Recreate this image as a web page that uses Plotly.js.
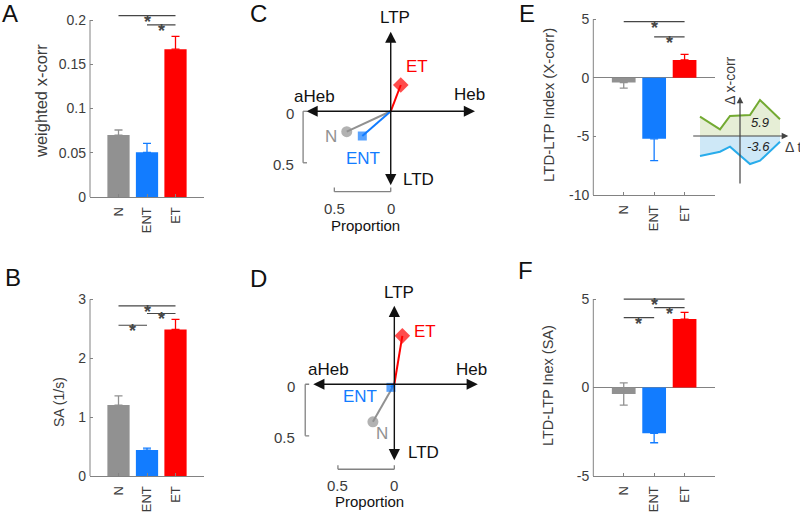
<!DOCTYPE html>
<html><head><meta charset="utf-8">
<script src="https://cdn.plot.ly/plotly-3.0.1.min.js"></script>
<style>html,body{margin:0;padding:0;background:#fff}#chart{width:800px;height:513px}</style>
</head><body><div id="chart"></div>
<script>
// ---------- DATA ----------
const categories = ['N', 'ENT', 'ET'];

// A: weighted x-corr
const xcorrMean = [0.070, 0.0505, 0.167];
const xcorrErrUp = [0.0057, 0.0102, 0.0146];
const xcorrErrDown = [0, 0, 0];
const xcorrTicks = [0, 0.05, 0.1, 0.15, 0.2];
const xcorrTickText = ['0', '0.05', '0.1', '0.15', '0.2'];
const xcorrSig = [[0, 2, 0.2049], [1, 2, 0.1944]];

// B: SA (1/s)
const saMean = [1.205, 0.44, 2.49];
const saErrUp = [0.155, 0.035, 0.17];
const saErrDown = [0, 0, 0];
const saTicks = [0, 1, 2, 3];
const saTickText = ['0', '1', '2', '3'];
const saSig = [[0, 2, 2.89], [1, 2, 2.76], [0, 1, 2.56]];

// E: LTD-LTP Index (X-corr)
const idxXcMean = [-0.40, -5.2, 1.53];
const idxXcErrUp = [0, 0, 0.47];
const idxXcErrDown = [0.48, 1.86, 0];
const idxXcTicks = [-10, -5, 0, 5];
const idxXcTickText = ['-10', '-5', '0', '5'];
const idxXcSig = [[0, 2, 4.8], [1, 2, 3.5]];

// F: LTD-LTP Inex (SA)
const idxSaMean = [-0.37, -2.59, 3.87];
const idxSaErrUp = [0.63, 0, 0.38];
const idxSaErrDown = [0.63, 0.53, 0];
const idxSaTicks = [-5, 0, 5];
const idxSaTickText = ['-5', '0', '5'];
const idxSaSig = [[0, 2, 5.0], [1, 2, 4.51], [0, 1, 3.95]];

// C / D: proportion vectors (x: aHeb(-)/Heb(+), y: LTD(-)/LTP(+))
const cPropX = [-0.39, -0.252, 0.089];
const cPropY = [-0.198, -0.24, 0.255];
const dPropX = [-0.19, -0.03, 0.071];
const dPropY = [-0.365, -0.03, 0.47];
const scaleTicks = [0, 0.5];
const scaleTickText = ['0', '0.5'];

// E inset
const insetDt = [-4, -2, -1, 1, 2, 4];
const insetLtp = [1.93, 0.67, 2.0, 2.1, 3.6, 1.67];
const insetLtd = [-2.0, -1.57, -1.07, -2.8, -2.47, -0.57];
const insetLtpText = '5.9';
const insetLtdText = '-3.6';

// ---------- STYLE ----------
const W = 800, H = 513;
const FONT = 'Liberation Sans, Arial, sans-serif';
const GRAY = 'rgb(145,145,145)', BLUE = 'rgb(18,124,255)', RED = 'rgb(255,0,0)';
const barColors = [GRAY, BLUE, RED];
const AX = 'rgb(130,130,130)', TXT = 'rgb(60,60,60)', SIG = 'rgb(70,70,70)';
function xd(a, b) { return [a / W, b / W]; }
function yd(top, bot) { return [1 - bot / H, 1 - top / H]; }

const traces = [];
const shapes = [];
const annotations = [];
const layout = {
  width: W, height: H, margin: {l: 0, r: 0, t: 0, b: 0},
  paper_bgcolor: '#fff', plot_bgcolor: 'rgba(0,0,0,0)',
  showlegend: false, barmode: 'overlay',
  font: {family: FONT, color: TXT},
  shapes: shapes, annotations: annotations
};

function barPanel(n, xdom, ydom, yrange, mean, up, down, tv, tt, sig, ytop, title, titlePos, titleSize) {
  const xa = 'x' + (n === 1 ? '' : n), ya = 'y' + (n === 1 ? '' : n);
  layout['xaxis' + (n === 1 ? '' : n)] = {
    domain: xdom, range: [-1, 3], anchor: ya, showline: true, linecolor: AX, linewidth: 1,
    tickvals: [0, 1, 2], ticktext: categories, tickangle: -90, ticks: 'inside', ticklen: 3,
    tickcolor: AX, tickfont: {size: 13, color: TXT, family: FONT}, showgrid: false, zeroline: false,
    ticklabelstandoff: 4
  };
  layout['yaxis' + (n === 1 ? '' : n)] = {
    domain: ydom, range: yrange, anchor: xa, showline: false,
    tickvals: tv, ticktext: tt, ticks: 'inside', ticklen: 3, tickcolor: AX,
    tickfont: {size: 14, color: TXT, family: FONT}, showgrid: false,
    zeroline: yrange[0] < 0, zerolinecolor: AX, zerolinewidth: 1, ticklabelstandoff: 3
  };
  for (let i = 0; i < categories.length; i++) {
    traces.push({
      type: 'bar', x: [i], y: [mean[i]], width: 0.78, xaxis: xa, yaxis: ya,
      marker: {color: barColors[i], line: {width: 0}},
      error_y: {type: 'data', symmetric: false, array: [up[i]], arrayminus: [down[i]],
        color: barColors[i], thickness: 1.3, width: 4},
      hoverinfo: 'skip'
    });
  }
  shapes.push({type: 'line', xref: 'paper', yref: ya, x0: xdom[0], x1: xdom[0],
    y0: yrange[0], y1: ytop, line: {color: AX, width: 1}});
  sig.forEach(s => {
    shapes.push({type: 'line', xref: xa, yref: ya, x0: s[0], x1: s[1], y0: s[2], y1: s[2],
      line: {color: SIG, width: 1.2}});
    annotations.push({xref: xa, yref: ya, x: (s[0] + s[1]) / 2, y: s[2], text: '<b>*</b>',
      showarrow: false, font: {size: 18, color: SIG, family: FONT}, yshift: -6});
  });
  annotations.push({xref: 'paper', yref: 'paper', x: titlePos[0] / W, y: 1 - titlePos[1] / H,
    text: title, textangle: -90, showarrow: false, xanchor: 'center', yanchor: 'middle',
    font: {size: titleSize, color: TXT, family: FONT}});
}

barPanel(1, xd(90, 204), yd(11.15, 197), [0, 0.21], xcorrMean, xcorrErrUp, xcorrErrDown,
  xcorrTicks, xcorrTickText, xcorrSig, 0.2, 'weighted x-corr', [41, 101], 16.5);
barPanel(2, xd(90, 204), yd(296.4, 476), [0, 3.05], saMean, saErrUp, saErrDown,
  saTicks, saTickText, saSig, 3, 'SA (1/s)', [59, 402], 14);
barPanel(5, xd(593.3, 715), yd(16.96, 195), [-10, 5.2], idxXcMean, idxXcErrUp, idxXcErrDown,
  idxXcTicks, idxXcTickText, idxXcSig, 5, 'LTD-LTP Index (X-corr)', [548, 105], 15);
barPanel(6, xd(593.3, 715), yd(295.5, 476), [-5, 5.2], idxSaMean, idxSaErrUp, idxSaErrDown,
  idxSaTicks, idxSaTickText, idxSaSig, 5, 'LTD-LTP Inex (SA)', [548, 386], 14.5);

// ---------- C / D vector panels ----------
const markerSymbols = ['circle', 'square', 'diamond'];
const markerSizes = [11, 9, 12];
function vecPanel(n, xdom, ydom, px, py, cfg) {
  const xa = 'x' + n, ya = 'y' + n;
  layout['xaxis' + n] = {domain: xdom, range: [-0.893, 0.880], anchor: ya, visible: false, fixedrange: true};
  layout['yaxis' + n] = {domain: ydom, range: [-1.201, 0.983], anchor: xa, visible: false, fixedrange: true};
  // axes arrows
  annotations.push({xref: xa, yref: ya, axref: xa, ayref: ya, x: cfg.hR, y: 0, ax: cfg.hL, ay: 0,
    text: '', showarrow: true, arrowhead: 2, startarrowhead: 2, arrowside: 'end+start',
    arrowsize: 1.6, startarrowsize: 1.6, arrowwidth: 1.4, arrowcolor: '#111', standoff: 0, startstandoff: 0});
  annotations.push({xref: xa, yref: ya, axref: xa, ayref: ya, x: 0, y: cfg.vT, ax: 0, ay: cfg.vB,
    text: '', showarrow: true, arrowhead: 2, startarrowhead: 2, arrowside: 'end+start',
    arrowsize: 1.6, startarrowsize: 1.6, arrowwidth: 1.4, arrowcolor: '#111', standoff: 0, startstandoff: 0});
  // vectors
  for (let i = 0; i < categories.length; i++) {
    traces.push({type: 'scatter', mode: 'lines+markers', x: [0, px[i]], y: [0, py[i]],
      xaxis: xa, yaxis: ya, cliponaxis: false,
      line: {color: barColors[i], width: 2},
      marker: {symbol: markerSymbols[i], size: [0, markerSizes[i]], color: barColors[i], line: {width: 0}},
      hoverinfo: 'skip'});
  }
  // scale brackets
  const bx = cfg.bx, by = cfg.by, tk = 0.035, tky = 0.04;
  shapes.push({type: 'line', xref: xa, yref: ya, x0: bx, x1: bx, y0: -scaleTicks[0], y1: -scaleTicks[1], line: {color: AX, width: 1.3}});
  scaleTicks.forEach(v => shapes.push({type: 'line', xref: xa, yref: ya, x0: bx, x1: bx + tk, y0: -v, y1: -v, line: {color: AX, width: 1.3}}));
  shapes.push({type: 'line', xref: xa, yref: ya, x0: -scaleTicks[1], x1: -scaleTicks[0], y0: by, y1: by, line: {color: AX, width: 1.3}});
  scaleTicks.forEach(v => shapes.push({type: 'line', xref: xa, yref: ya, x0: -v, x1: -v, y0: by, y1: by + tky, line: {color: AX, width: 1.3}}));
  scaleTicks.forEach((v, k) => {
    annotations.push({xref: xa, yref: ya, x: cfg.lblX, y: -v, text: scaleTickText[k], showarrow: false,
      xanchor: 'right', yanchor: 'middle', font: {size: 15, color: TXT, family: FONT}, yshift: -2});
    annotations.push({xref: xa, yref: ya, x: -v, y: cfg.lblY, text: scaleTickText[k], showarrow: false,
      xanchor: 'center', yanchor: 'middle', font: {size: 15, color: TXT, family: FONT}});
  });
  annotations.push({xref: xa, yref: ya, x: -0.222, y: cfg.propY, text: 'Proportion', showarrow: false,
    font: {size: 15, color: '#111', family: FONT}});
  const axisLabels = [['LTP', cfg.ltp], ['LTD', cfg.ltd], ['aHeb', cfg.aheb], ['Heb', cfg.heb]];
  axisLabels.forEach(l => annotations.push({xref: xa, yref: ya, x: l[1][0], y: l[1][1], text: l[0],
    showarrow: false, font: {size: 17, color: '#111', family: FONT}}));
  categories.forEach((c, i) => annotations.push({xref: xa, yref: ya, x: cfg.cat[i][0], y: cfg.cat[i][1],
    text: c, showarrow: false, font: {size: 17, color: barColors[i], family: FONT}}));
}

vecPanel(3, xd(290, 490), yd(10, 235), cPropX, cPropY, {
  hL: -0.76, hR: 0.747, vT: 0.773, vB: -0.732, bx: -0.777, by: -0.78,
  lblX: -0.839, lblY: -0.939, propY: -1.104,
  ltp: [0.038, 0.906], ltd: [0.242, -0.667], aheb: [-0.672, 0.142], heb: [0.694, 0.158],
  cat: [[-0.532, -0.24], [-0.246, -0.456], [0.23, 0.433]]
});
vecPanel(4, xd(293.6, 493.6), yd(283, 508), dPropX, dPropY, {
  hL: -0.732, hR: 0.74, vT: 0.761, vB: -0.751, bx: -0.79, by: -0.825,
  lblX: -0.86, lblY: -0.978, propY: -1.14,
  ltp: [0.044, 0.889], ltd: [0.257, -0.664], aheb: [-0.58, 0.139], heb: [0.688, 0.14],
  cat: [[-0.112, -0.476], [-0.304, -0.12], [0.272, 0.517]]
});

// ---------- E inset ----------
layout.xaxis7 = {domain: xd(690, 800), range: [-5, 6], anchor: 'y7', visible: false, fixedrange: true};
layout.yaxis7 = {domain: yd(60, 190), range: [-5.4, 7.6], anchor: 'x7', visible: false, fixedrange: true};
traces.push({type: 'scatter', mode: 'lines', x: insetDt, y: insetLtp, xaxis: 'x7', yaxis: 'y7',
  fill: 'tozeroy', fillcolor: 'rgb(230,238,214)', line: {color: 'rgb(115,170,50)', width: 2}, hoverinfo: 'skip'});
traces.push({type: 'scatter', mode: 'lines', x: insetDt, y: insetLtd, xaxis: 'x7', yaxis: 'y7',
  fill: 'tozeroy', fillcolor: 'rgb(206,232,247)', line: {color: 'rgb(40,172,235)', width: 2}, hoverinfo: 'skip'});
annotations.push({xref: 'x7', yref: 'y7', axref: 'x7', ayref: 'y7', x: 4.83, y: 0, ax: -4.83, ay: 0,
  text: '', showarrow: true, arrowhead: 2, arrowsize: 1.1, arrowwidth: 1.2, arrowcolor: '#444', standoff: 0});
annotations.push({xref: 'x7', yref: 'y7', axref: 'x7', ayref: 'y7', x: 0, y: 3.93, ax: 0, ay: -4.9,
  text: '', showarrow: true, arrowhead: 2, arrowsize: 1.1, arrowwidth: 1.2, arrowcolor: '#444', standoff: 0});
annotations.push({xref: 'x7', yref: 'y7', x: -1.0, y: 5.5, text: '\u0394 x-corr', textangle: -90,
  showarrow: false, font: {size: 14, color: TXT, family: FONT}});
annotations.push({xref: 'x7', yref: 'y7', x: 5.3, y: -1.07, text: '\u0394 t',
  showarrow: false, font: {size: 14, color: TXT, family: FONT}});
annotations.push({xref: 'x7', yref: 'y7', x: 2.0, y: 1.33, text: '<i>' + insetLtpText + '</i>',
  showarrow: false, font: {size: 13, color: '#222', family: FONT}});
annotations.push({xref: 'x7', yref: 'y7', x: 1.8, y: -1.07, text: '<i>' + insetLtdText + '</i>',
  showarrow: false, font: {size: 13, color: '#222', family: FONT}});

// ---------- Panel letters ----------
const panelLetters = [['A', 10, 13.5], ['B', 13, 277.5], ['C', 258, 13], ['D', 258, 278], ['E', 526.5, 13.7], ['F', 525.5, 270]];
panelLetters.forEach(p => annotations.push({xref: 'paper', yref: 'paper', x: p[1] / W, y: 1 - p[2] / H,
  text: p[0], showarrow: false, xanchor: 'center', yanchor: 'middle',
  font: {size: 24, color: '#111', family: FONT}}));

Plotly.newPlot('chart', traces, layout, {staticPlot: true, displayModeBar: false});
</script></body></html>
